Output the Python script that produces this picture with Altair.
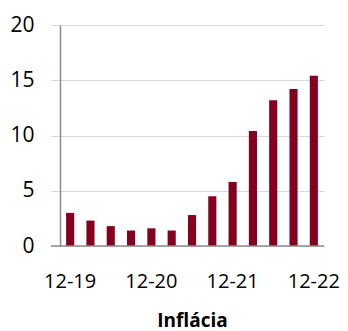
import altair as alt
import pandas as pd

periods = ["12-19", "03-20", "06-20", "09-20", "12-20", "03-21", "06-21",
           "09-21", "12-21", "03-22", "06-22", "09-22", "12-22"]
inflation = [3.0, 2.3, 1.8, 1.4, 1.6, 1.4, 2.8, 4.5, 5.8, 10.4, 13.2, 14.2, 15.4]

df = pd.DataFrame({"period": periods, "value": inflation})

font = "Open Sans"

chart = alt.Chart(df).mark_bar(color="#85001F").encode(
    x=alt.X("period:N", sort=periods,
            scale=alt.Scale(paddingInner=0.6, paddingOuter=0.3),
            axis=alt.Axis(title="Inflácia", titleFont=font, titleFontSize=19,
                          titleFontWeight="bold", titleColor="#000000", titlePadding=20,
                          labelExpr="substring(datum.label,0,2)=='12' ? datum.label : ''",
                          labelAngle=0, labelFont=font, labelFontSize=20,
                          labelColor="#000000", labelPadding=25, ticks=False,
                          domain=False, grid=False)),
    y=alt.Y("value:Q", scale=alt.Scale(domain=[0, 20], nice=False),
            axis=alt.Axis(title=None, values=[0, 5, 10, 15, 20], labelFont=font,
                          labelFontSize=21, labelColor="#000000", labelPadding=17,
                          tickSize=9, tickColor="#d9d9d9", gridColor="#d9d9d9",
                          domainColor="#8c8c8c", domainWidth=1.5)),
)

baseline = alt.Chart(pd.DataFrame({"y": [0]})).mark_rule(color="#8c8c8c", strokeWidth=1.5).encode(
    y="y:Q", x=alt.value(-9), x2=alt.value(264)
)

final = alt.layer(chart, baseline).properties(
    width=264, height=221,
    autosize=alt.AutoSizeParams(type="none"),
    padding={"left": 52, "top": 17, "right": 16, "bottom": 85},
).configure_view(stroke=None)

final.save("out.html", embed_options={"renderer": "svg", "actions": False})
